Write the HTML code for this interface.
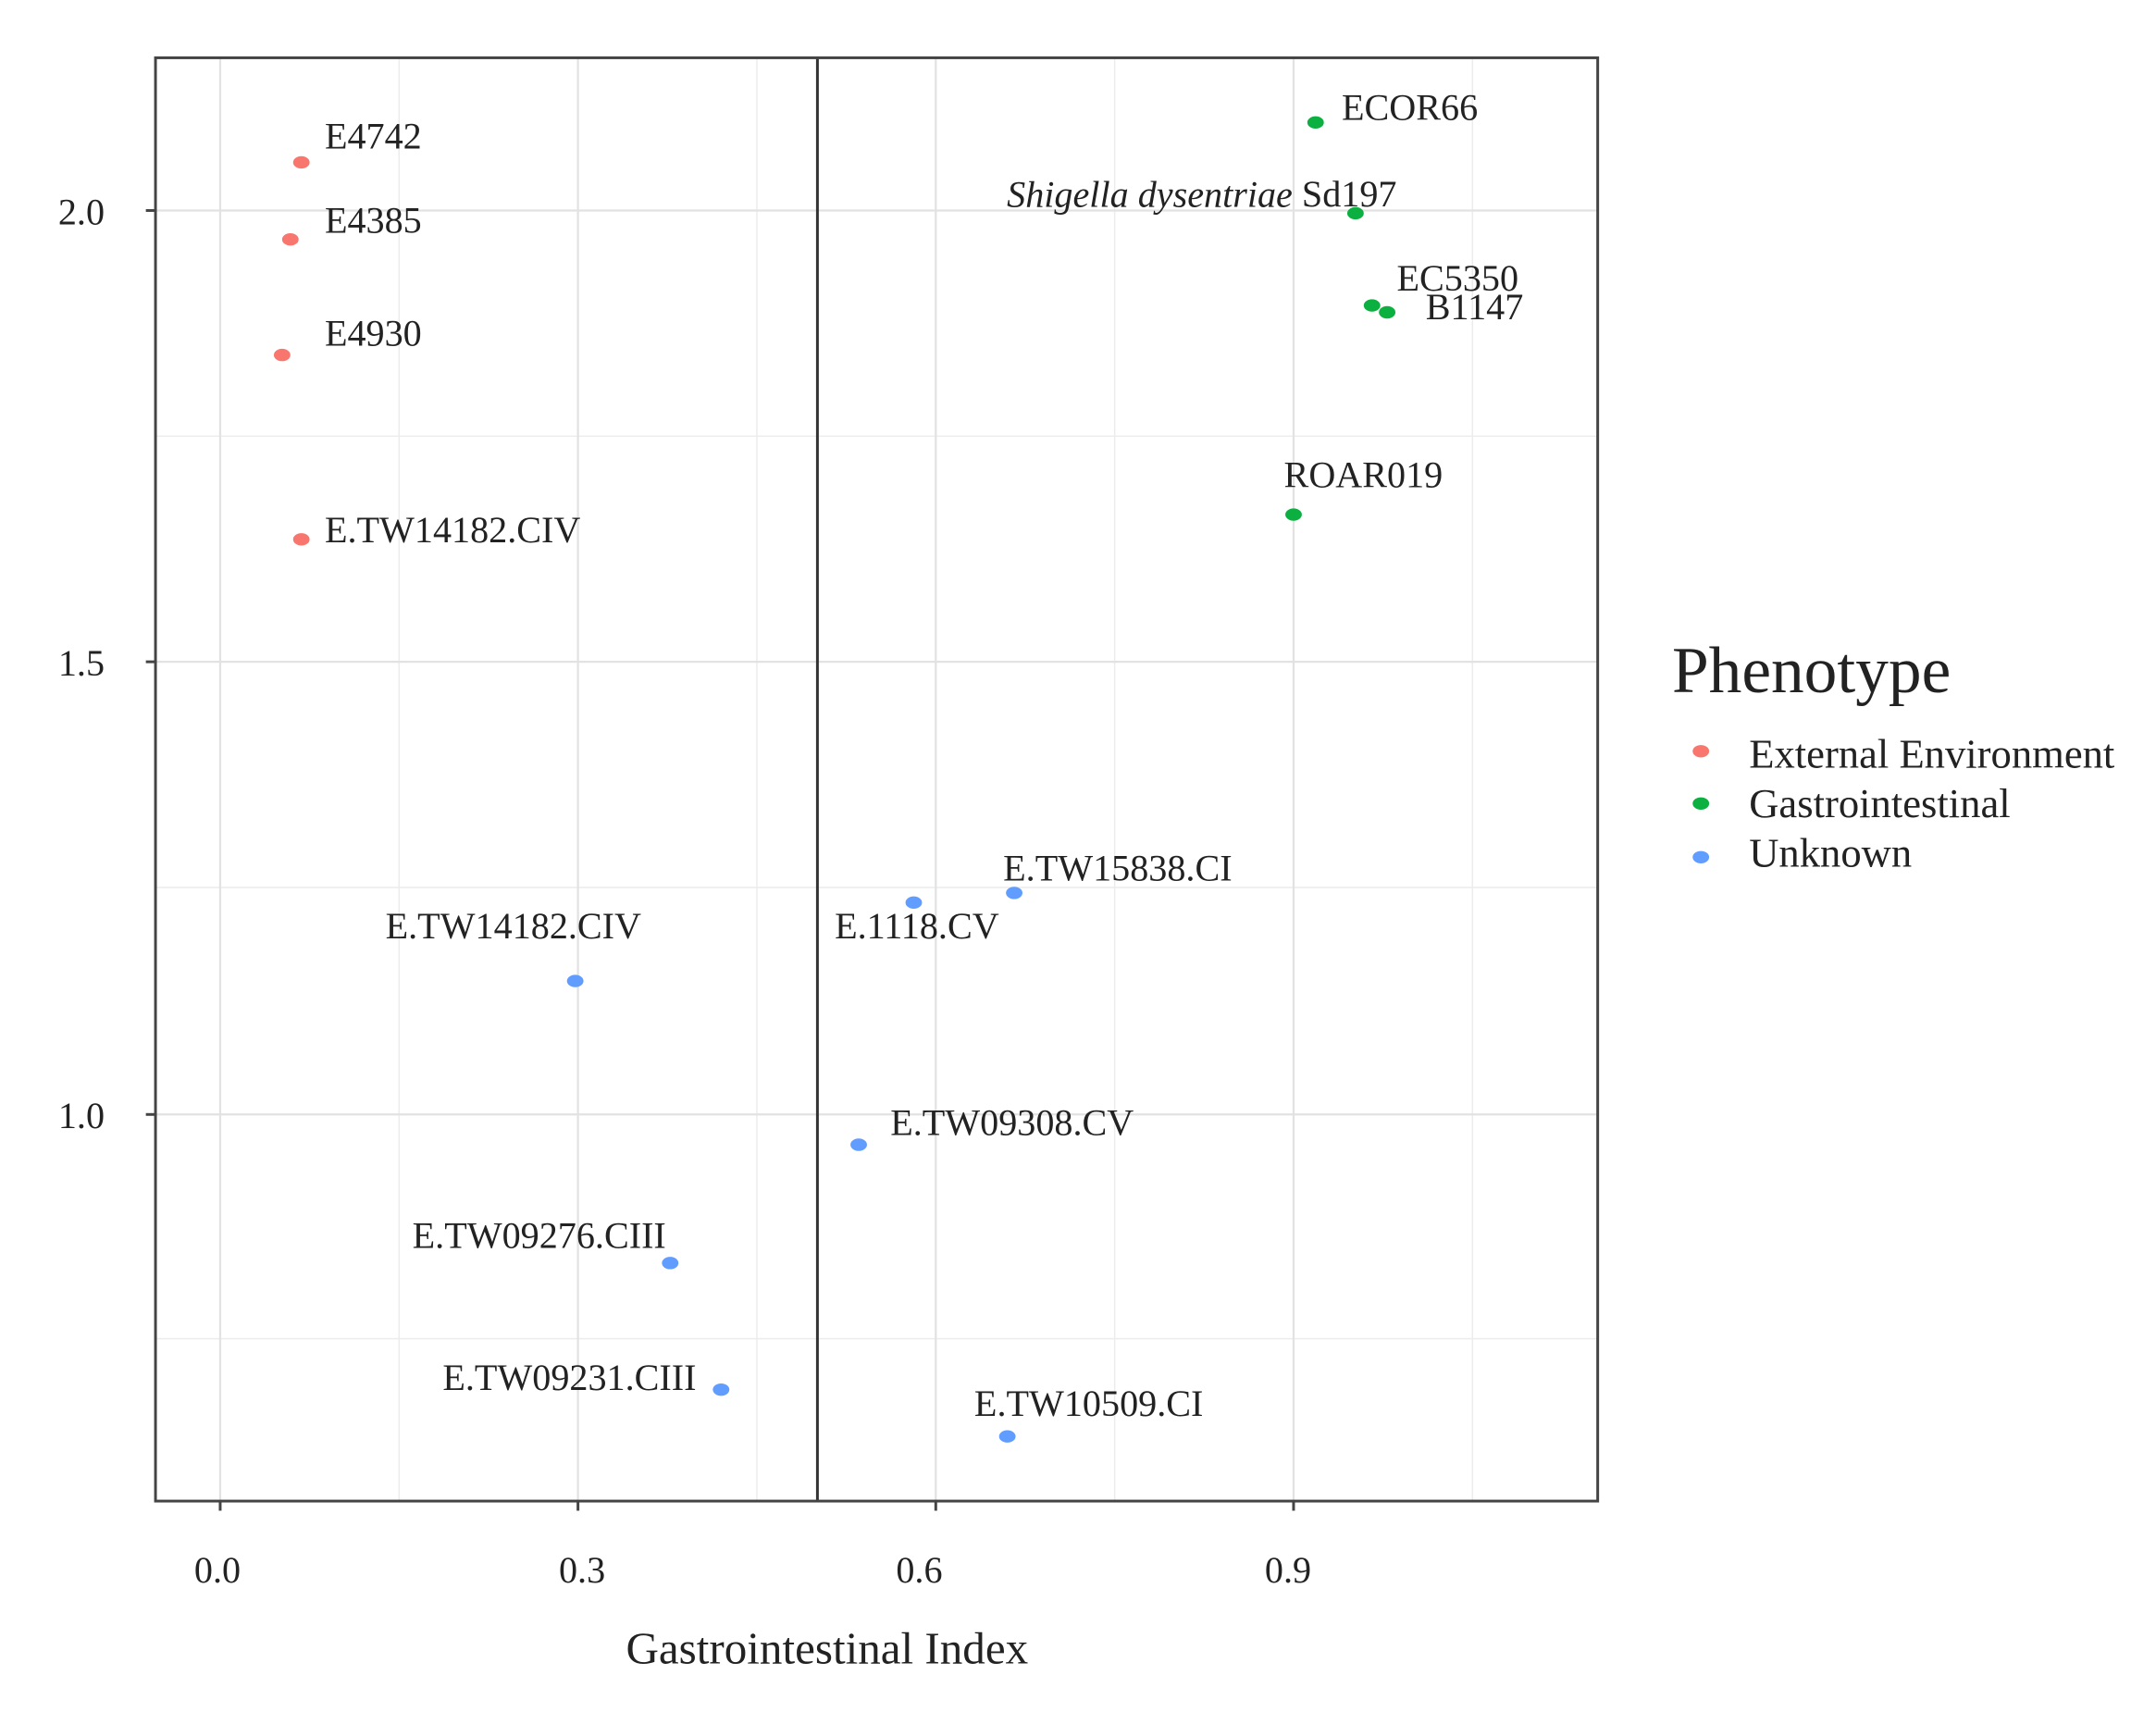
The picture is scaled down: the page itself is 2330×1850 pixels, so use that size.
<!DOCTYPE html>
<html><head><meta charset="utf-8"><style>
html,body{margin:0;padding:0;background:#fff;}
svg{display:block;}
text{font-family:"Liberation Serif",serif;fill:#222;}
.l{font-size:27px;dominant-baseline:central;}
.t{font-size:27px;fill:#333;}
</style></head><body>
<svg width="2330" height="1850" viewBox="0 0 1566.7 1244.3" preserveAspectRatio="none" xmlns="http://www.w3.org/2000/svg">
<rect width="1570" height="1250" fill="#fff"/>
<g stroke="#ececec" stroke-width="1">
<line x1="290" y1="42" x2="290" y2="1091"/><line x1="550" y1="42" x2="550" y2="1091"/><line x1="810" y1="42" x2="810" y2="1091"/><line x1="1070" y1="42" x2="1070" y2="1091"/>
<line x1="113" y1="317" x2="1161" y2="317"/><line x1="113" y1="645" x2="1161" y2="645"/><line x1="113" y1="973" x2="1161" y2="973"/>
</g>
<g stroke="#e2e2e2" stroke-width="1.5">
<line x1="160" y1="42" x2="160" y2="1091"/><line x1="420" y1="42" x2="420" y2="1091"/><line x1="680" y1="42" x2="680" y2="1091"/><line x1="940" y1="42" x2="940" y2="1091"/>
<line x1="113" y1="153" x2="1161" y2="153"/><line x1="113" y1="481" x2="1161" y2="481"/><line x1="113" y1="810" x2="1161" y2="810"/>
</g>
<line x1="594" y1="42" x2="594" y2="1091" stroke="#333" stroke-width="2"/>
<rect x="113" y="42" width="1048" height="1049" fill="none" stroke="#444" stroke-width="2"/>
<g stroke="#444" stroke-width="2">
<line x1="160" y1="1091" x2="160" y2="1098"/><line x1="420" y1="1091" x2="420" y2="1098"/><line x1="680" y1="1091" x2="680" y2="1098"/><line x1="940" y1="1091" x2="940" y2="1098"/>
<line x1="106" y1="153" x2="113" y2="153"/><line x1="106" y1="481" x2="113" y2="481"/><line x1="106" y1="810" x2="113" y2="810"/>
</g>
<g class="t" text-anchor="middle">
<text x="158" y="1150">0.0</text><text x="423" y="1150">0.3</text><text x="668" y="1150">0.6</text><text x="936" y="1150">0.9</text>
</g>
<g class="t" text-anchor="end">
<text x="76" y="163">2.0</text><text x="76" y="491">1.5</text><text x="76" y="820">1.0</text>
</g>
<text x="601" y="1209" text-anchor="middle" style="font-size:33px">Gastrointestinal Index</text>
<g fill="#F8766D"><ellipse cx="219" cy="118" rx="6" ry="4.5"/><ellipse cx="211" cy="174" rx="6" ry="4.5"/><ellipse cx="205" cy="258" rx="6" ry="4.5"/><ellipse cx="219" cy="392" rx="6" ry="4.5"/></g>
<g fill="#0BB040"><ellipse cx="956" cy="89" rx="6" ry="4.5"/><ellipse cx="985" cy="155" rx="6" ry="4.5"/><ellipse cx="997" cy="222" rx="6" ry="4.5"/><ellipse cx="1008" cy="227" rx="6" ry="4.5"/><ellipse cx="940" cy="374" rx="6" ry="4.5"/></g>
<g fill="#619CFF"><ellipse cx="737" cy="649" rx="6" ry="4.5"/><ellipse cx="664" cy="656" rx="6" ry="4.5"/><ellipse cx="418" cy="713" rx="6" ry="4.5"/><ellipse cx="624" cy="832" rx="6" ry="4.5"/><ellipse cx="487" cy="918" rx="6" ry="4.5"/><ellipse cx="524" cy="1010" rx="6" ry="4.5"/><ellipse cx="732" cy="1044" rx="6" ry="4.5"/></g>
<g class="l">
<text x="236" y="99">E4742</text>
<text x="236" y="160">E4385</text>
<text x="236" y="242">E4930</text>
<text x="236" y="385">E.TW14182.CIV</text>
<text x="975" y="78">ECOR66</text>
<text x="1015" y="141" text-anchor="end"><tspan font-style="italic">Shigella dysentriae</tspan> Sd197</text>
<text x="1015" y="202">EC5350</text>
<text x="1036" y="223">B1147</text>
<text x="933" y="345">ROAR019</text>
<text x="729" y="631">E.TW15838.CI</text>
<text x="726" y="673" text-anchor="end">E.1118.CV</text>
<text x="466" y="673" text-anchor="end">E.TW14182.CIV</text>
<text x="647" y="816">E.TW09308.CV</text>
<text x="484" y="898" text-anchor="end">E.TW09276.CIII</text>
<text x="506" y="1001" text-anchor="end">E.TW09231.CIII</text>
<text x="708" y="1020">E.TW10509.CI</text>
</g>
<text x="1215" y="503" style="font-size:48px">Phenotype</text>
<ellipse cx="1236" cy="546" rx="6" ry="4.5" fill="#F8766D"/>
<ellipse cx="1236" cy="584" rx="6" ry="4.5" fill="#0BB040"/>
<ellipse cx="1236" cy="623" rx="6" ry="4.5" fill="#619CFF"/>
<g style="font-size:30px">
<text x="1271" y="558">External Environment</text>
<text x="1271" y="594">Gastrointestinal</text>
<text x="1271" y="630">Unknown</text>
</g>
</svg>
</body></html>
